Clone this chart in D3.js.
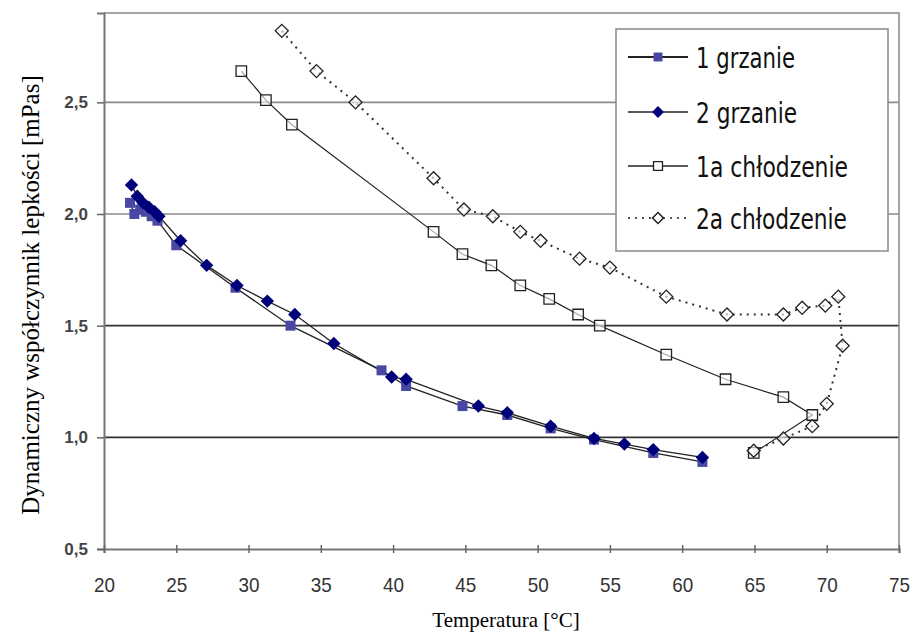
<!DOCTYPE html>
<html>
<head>
<meta charset="utf-8">
<script src="https://cdn.jsdelivr.net/npm/d3@7"></script>
<style>
  body { margin: 0; background: #fff; }
  svg { display: block; }
</style>
</head>
<body>
<svg id="chart"></svg>
<script>
// values
const heat1 = [[21.8, 2.05], [22.1, 2.00], [22.5, 2.02], [22.9, 2.01], [23.3, 1.99], [23.7, 1.97],
  [25.0, 1.86], [29.1, 1.67], [32.9, 1.50], [39.2, 1.30], [40.9, 1.23], [44.8, 1.14],
  [47.9, 1.10], [50.9, 1.04], [53.9, 0.99], [58.0, 0.93], [61.4, 0.89]];
const heat2 = [[21.9, 2.13], [22.3, 2.08], [22.7, 2.05], [23.1, 2.03], [23.5, 2.01], [23.8, 1.99],
  [25.3, 1.88], [27.1, 1.77], [29.2, 1.68], [31.3, 1.61], [33.2, 1.55], [35.9, 1.42],
  [39.9, 1.27], [40.9, 1.26], [45.9, 1.14], [47.9, 1.11], [50.9, 1.05], [53.9, 0.995],
  [56.0, 0.97], [58.0, 0.945], [61.4, 0.91]];
const cool1 = [[29.5, 2.64], [31.2, 2.51], [33.0, 2.40], [42.8, 1.92], [44.8, 1.82], [46.8, 1.77],
  [48.8, 1.68], [50.8, 1.62], [52.8, 1.55], [54.3, 1.50], [58.9, 1.37], [63.0, 1.26],
  [67.0, 1.18], [69.0, 1.10], [64.95, 0.93]];
const cool2 = [[32.3, 2.82], [34.7, 2.64], [37.4, 2.50], [42.8, 2.16], [44.9, 2.02], [46.9, 1.99],
  [48.8, 1.92], [50.2, 1.88], [52.9, 1.80], [55.0, 1.76], [58.9, 1.63], [63.1, 1.55],
  [67.0, 1.55], [68.3, 1.58], [69.9, 1.59], [70.8, 1.63], [71.1, 1.41], [70.0, 1.15],
  [69.0, 1.05], [67.0, 0.995], [64.95, 0.94]];
const xTicks = [20, 25, 30, 35, 40, 45, 50, 55, 60, 65, 70, 75];
const yTicks = [0.5, 1.0, 1.5, 2.0, 2.5];
const seriesNames = ["1 grzanie", "2 grzanie", "1a chłodzenie", "2a chłodzenie"];

const width = 912, height = 642;
const svg = d3.select("#chart").attr("width", width).attr("height", height);

const x = d3.scaleLinear().domain([20, 75]).range([104, 899]);
const y = d3.scaleLinear().domain([0.5, 2.9]).range([549, 13]);

// gridlines
svg.append("g").selectAll("line")
  .data(yTicks.filter(d => d > 0.5))
  .enter().append("line")
  .attr("x1", x(20)).attr("x2", x(75))
  .attr("y1", d => y(d)).attr("y2", d => y(d))
  .attr("stroke", d => d < 1.8 ? "#333" : "#8a8a8a")
  .attr("stroke-width", 1.6);

// frame (top / right)
svg.append("path")
  .attr("d", `M${x(20)},${y(2.9)}H${x(75)}V${y(0.5)}`)
  .attr("fill", "none").attr("stroke", "#888").attr("stroke-width", 1.5);

// axes
const yAxis = svg.append("g")
  .attr("transform", `translate(${x(20)},0)`)
  .call(d3.axisLeft(y).tickValues(yTicks).tickSize(7).tickFormat(d => d3.format(".1f")(d).replace(".", ",")));
const xAxis = svg.append("g")
  .attr("transform", `translate(0,${y(0.5)})`)
  .call(d3.axisBottom(x).tickValues(xTicks).tickSize(4).tickPadding(24));

[xAxis, yAxis].forEach(a => {
  a.select(".domain").attr("stroke", "#777").attr("stroke-width", 2);
  a.selectAll(".tick line").attr("stroke", "#666").attr("stroke-width", 1.5);
  a.selectAll(".tick text").attr("fill", "#333")
    .style("font-family", "Liberation Sans, Arial, sans-serif");
});
xAxis.selectAll(".tick line").attr("y1", -4);
xAxis.selectAll(".tick text").style("font-size", "21px")
  .attr("textLength", 21).attr("lengthAdjust", "spacingAndGlyphs");
yAxis.selectAll(".tick text").attr("x", -16)
  .style("font-size", "17px").style("font-weight", "bold").attr("fill", "#444");

// axis titles
svg.append("text")
  .attr("x", 506).attr("y", 627)
  .attr("text-anchor", "middle")
  .style("font-family", "Liberation Serif, Times New Roman, serif").style("font-size", "21px")
  .text("Temperatura [°C]");
svg.append("text")
  .attr("transform", "translate(39,295) rotate(-90)")
  .attr("text-anchor", "middle")
  .style("font-family", "Liberation Serif, Times New Roman, serif").style("font-size", "25px")
  .text("Dynamiczny współczynnik lepkości [mPas]");

const line = d3.line().x(d => x(d[0])).y(d => y(d[1]));
const sym = (type, size) => d3.symbol().type(type).size(size)();

// heating curves
svg.append("path").datum(heat1).attr("d", line)
  .attr("fill", "none").attr("stroke", "#222").attr("stroke-width", 1.3);
svg.append("path").datum(heat2).attr("d", line)
  .attr("fill", "none").attr("stroke", "#222").attr("stroke-width", 1.3);
svg.append("g").selectAll("path").data(heat1).enter().append("path")
  .attr("transform", d => `translate(${x(d[0])},${y(d[1])})`)
  .attr("d", sym(d3.symbolSquare, 100)).attr("fill", "#4848a4");
svg.append("g").selectAll("path").data(heat2).enter().append("path")
  .attr("transform", d => `translate(${x(d[0])},${y(d[1])}) rotate(45)`)
  .attr("d", sym(d3.symbolSquare, 90)).attr("fill", "#00007a");

// cooling curves
svg.append("path").datum(cool1).attr("d", line)
  .attr("fill", "none").attr("stroke", "#222").attr("stroke-width", 1.2);
svg.append("path").datum(cool2).attr("d", line)
  .attr("fill", "none").attr("stroke", "#333").attr("stroke-width", 2).attr("stroke-dasharray", "2,5");
svg.append("g").selectAll("path").data(cool1).enter().append("path")
  .attr("transform", d => `translate(${x(d[0])},${y(d[1])})`)
  .attr("d", sym(d3.symbolSquare, 110)).attr("fill", "#fff").attr("fill-opacity", 0.6)
  .attr("stroke", "#222").attr("stroke-width", 1.3);
svg.append("g").selectAll("path").data(cool2).enter().append("path")
  .attr("transform", d => `translate(${x(d[0])},${y(d[1])}) rotate(45)`)
  .attr("d", sym(d3.symbolSquare, 85)).attr("fill", "#fff").attr("fill-opacity", 0.6)
  .attr("stroke", "#222").attr("stroke-width", 1.3);

// legend
const legend = svg.append("g");
legend.append("rect")
  .attr("x", 616).attr("y", 29).attr("width", 272).attr("height", 222)
  .attr("fill", "#fff").attr("stroke", "#888").attr("stroke-width", 1.5);
const rows = [57, 112, 166, 218];
const textLen = [99, 101, 152, 151];
seriesNames.forEach((name, i) => {
  const ly = rows[i];
  legend.append("line")
    .attr("x1", 628).attr("x2", 688).attr("y1", ly).attr("y2", ly)
    .attr("stroke", "#222").attr("stroke-width", i === 0 ? 2 : 1.3)
    .attr("stroke-dasharray", i === 3 ? "2,5" : null);
  if (i === 0) legend.append("path").attr("d", sym(d3.symbolSquare, 80)).attr("fill", "#4848a4")
    .attr("transform", `translate(658,${ly})`);
  if (i === 1) legend.append("path").attr("d", sym(d3.symbolSquare, 70)).attr("fill", "#00007a")
    .attr("transform", `translate(658,${ly}) rotate(45)`);
  if (i === 2) legend.append("path").attr("d", sym(d3.symbolSquare, 80)).attr("fill", "#fff")
    .attr("stroke", "#222").attr("stroke-width", 1.3).attr("transform", `translate(658,${ly})`);
  if (i === 3) legend.append("path").attr("d", sym(d3.symbolSquare, 60)).attr("fill", "#fff")
    .attr("stroke", "#222").attr("stroke-width", 1.5).attr("transform", `translate(658,${ly}) rotate(45)`);
  legend.append("text")
    .attr("x", 696).attr("y", ly + 11)
    .attr("textLength", textLen[i]).attr("lengthAdjust", "spacingAndGlyphs")
    .style("font-family", "DejaVu Sans, Verdana, sans-serif").style("font-size", "28px")
    .attr("fill", "#111")
    .text(name);
});
</script>
</body>
</html>
